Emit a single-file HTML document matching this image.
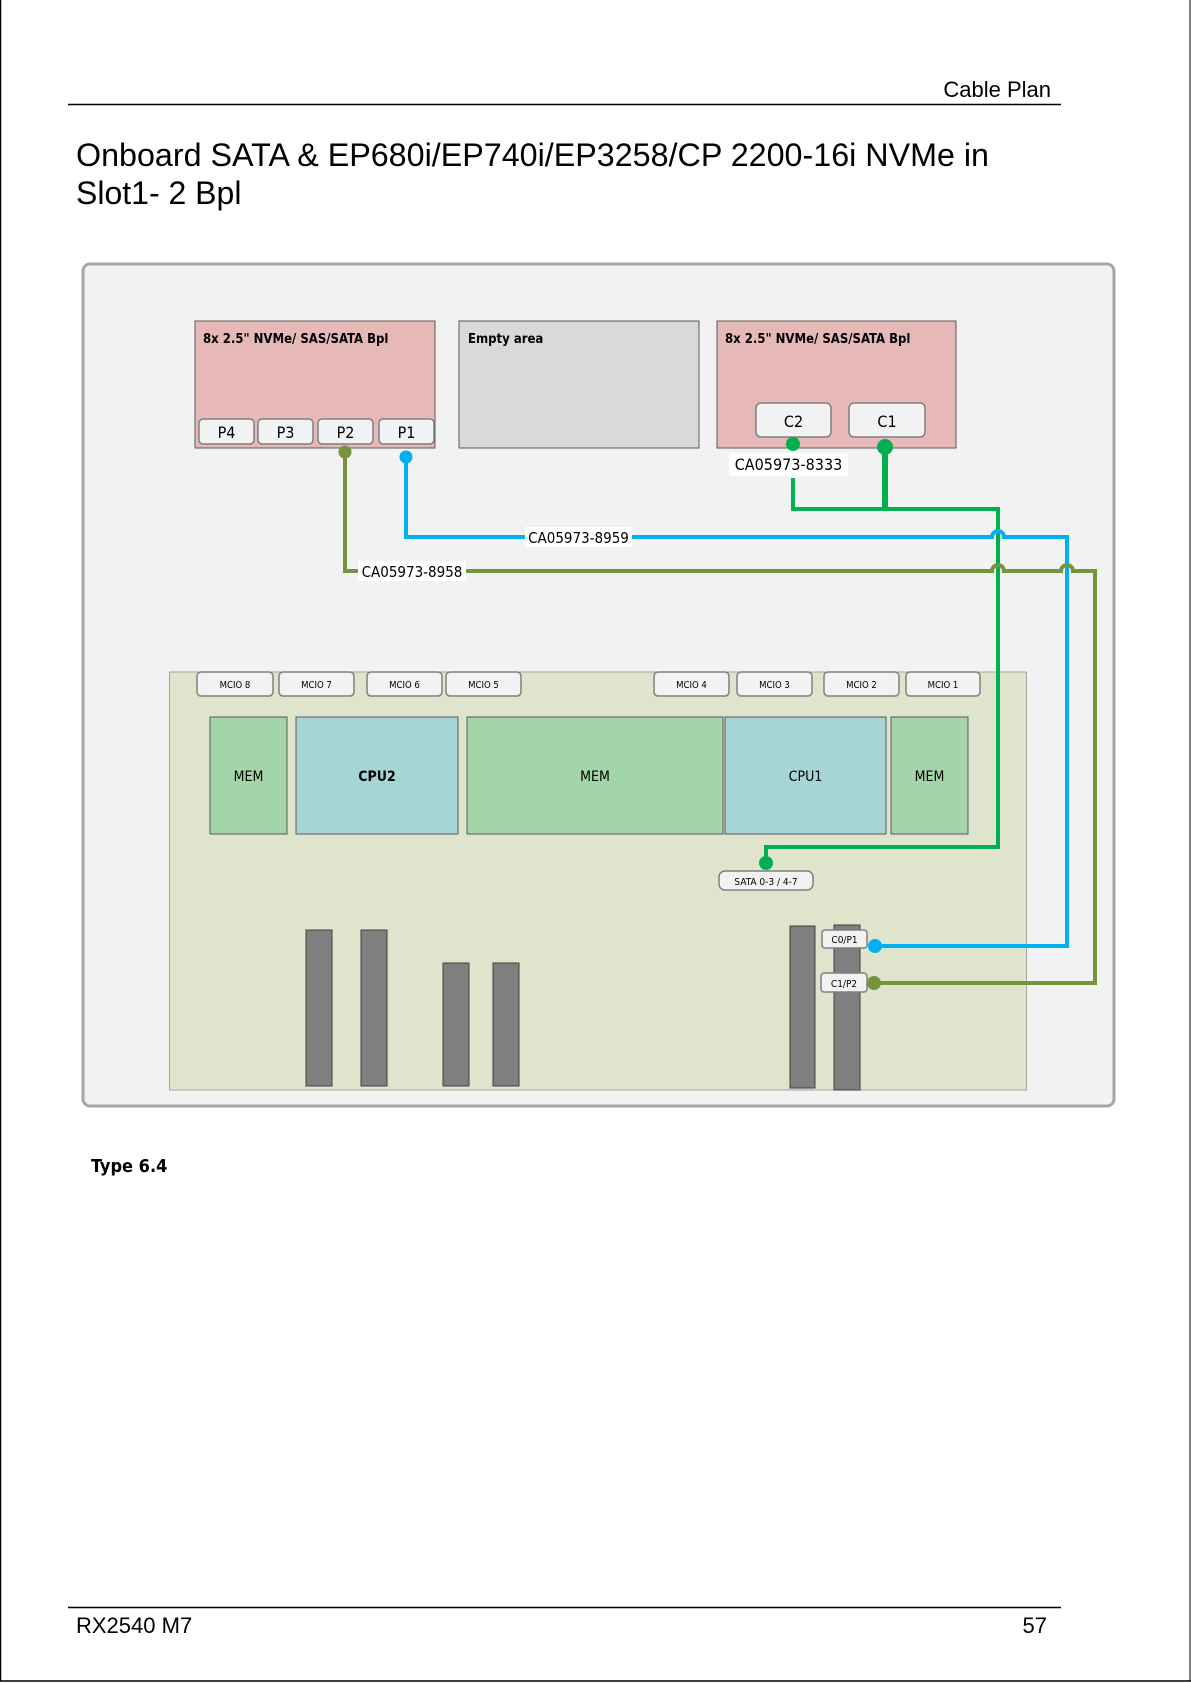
<!DOCTYPE html>
<html><head><meta charset="utf-8"><style>
html,body{margin:0;padding:0;background:#fff}
svg{display:block}
text{font-family:"Liberation Sans",sans-serif}
.c{font-family:"DejaVu Sans Condensed","Liberation Sans",sans-serif}
</style></head><body>
<svg width="1191" height="1684" viewBox="0 0 1191 1684" xmlns="http://www.w3.org/2000/svg">
<rect x="0" y="0" width="1191" height="1684" fill="#fff"/>
<line x1="0.5" y1="0" x2="0.5" y2="1681" stroke="#000" stroke-width="1.5"/>
<line x1="0" y1="1681" x2="1191" y2="1681" stroke="#000" stroke-width="1.5"/>
<line x1="1190" y1="0" x2="1190" y2="1681" stroke="#000" stroke-width="1"/>
<text x="1051" y="97" font-size="22" text-anchor="end">Cable Plan</text>
<line x1="68" y1="104.5" x2="1061" y2="104.5" stroke="#000" stroke-width="1.5"/>
<text x="76" y="166" font-size="32" textLength="913" lengthAdjust="spacingAndGlyphs">Onboard SATA &amp; EP680i/EP740i/EP3258/CP 2200-16i NVMe in</text>
<text x="76" y="204" font-size="32">Slot1- 2 Bpl</text>

<rect x="83" y="264" width="1031" height="842" rx="7" fill="#f2f2f2" stroke="#a6a6a6" stroke-width="3"/>

<rect x="195" y="321" width="240" height="127" fill="#e6b9b8" stroke="#595959" stroke-width="1"/>
<text class="c" x="203" y="343" font-size="13" font-weight="bold">8x  2.5" NVMe/ SAS/SATA Bpl</text>
<g font-size="16" text-anchor="middle" class="c">
<rect x="199" y="419" width="55" height="25" rx="4" fill="#f2f2f2" stroke="#7f7f7f" stroke-width="1.5"/><text class="c" x="226.5" y="438">P4</text>
<rect x="258" y="419" width="55" height="25" rx="4" fill="#f2f2f2" stroke="#7f7f7f" stroke-width="1.5"/><text class="c" x="285.5" y="438">P3</text>
<rect x="318" y="419" width="55" height="25" rx="4" fill="#f2f2f2" stroke="#7f7f7f" stroke-width="1.5"/><text class="c" x="345.5" y="438">P2</text>
<rect x="379" y="419" width="55" height="25" rx="4" fill="#f2f2f2" stroke="#7f7f7f" stroke-width="1.5"/><text class="c" x="406.5" y="438">P1</text>
</g>
<rect x="459" y="321" width="240" height="127" fill="#d9d9d9" stroke="#595959" stroke-width="1"/>
<text class="c" x="468" y="343" font-size="13" font-weight="bold">Empty area</text>
<rect x="717" y="321" width="239" height="127" fill="#e6b9b8" stroke="#595959" stroke-width="1"/>
<text class="c" x="725" y="343" font-size="13" font-weight="bold">8x  2.5" NVMe/ SAS/SATA Bpl</text>
<rect x="756" y="403" width="75" height="34" rx="5" fill="#f2f2f2" stroke="#7f7f7f" stroke-width="1.5"/><text class="c" x="793.5" y="427" font-size="16" text-anchor="middle">C2</text>
<rect x="849" y="403" width="76" height="34" rx="5" fill="#f2f2f2" stroke="#7f7f7f" stroke-width="1.5"/><text class="c" x="887" y="427" font-size="16" text-anchor="middle">C1</text>

<rect x="169.5" y="672" width="857" height="418" fill="#dfe4cd" stroke="#a6a6a6" stroke-width="1"/>
<g font-size="9.5" text-anchor="middle">
<rect x="197" y="672" width="76" height="24" rx="4" fill="#f2f2f2" stroke="#7f7f7f" stroke-width="1.5"/><text class="c" x="235" y="688">MCIO 8</text>
<rect x="279" y="672" width="75" height="24" rx="4" fill="#f2f2f2" stroke="#7f7f7f" stroke-width="1.5"/><text class="c" x="316.5" y="688">MCIO 7</text>
<rect x="367" y="672" width="75" height="24" rx="4" fill="#f2f2f2" stroke="#7f7f7f" stroke-width="1.5"/><text class="c" x="404.5" y="688">MCIO 6</text>
<rect x="446" y="672" width="75" height="24" rx="4" fill="#f2f2f2" stroke="#7f7f7f" stroke-width="1.5"/><text class="c" x="483.5" y="688">MCIO 5</text>
<rect x="654" y="672" width="75" height="24" rx="4" fill="#f2f2f2" stroke="#7f7f7f" stroke-width="1.5"/><text class="c" x="691.5" y="688">MCIO 4</text>
<rect x="737" y="672" width="75" height="24" rx="4" fill="#f2f2f2" stroke="#7f7f7f" stroke-width="1.5"/><text class="c" x="774.5" y="688">MCIO 3</text>
<rect x="824" y="672" width="75" height="24" rx="4" fill="#f2f2f2" stroke="#7f7f7f" stroke-width="1.5"/><text class="c" x="861.5" y="688">MCIO 2</text>
<rect x="906" y="672" width="74" height="24" rx="4" fill="#f2f2f2" stroke="#7f7f7f" stroke-width="1.5"/><text class="c" x="943" y="688">MCIO 1</text>
</g>
<g font-size="14" text-anchor="middle">
<rect x="210" y="717" width="77" height="117" fill="#a3d5a8" stroke="#595959" stroke-width="1"/><text class="c" x="248.5" y="781">MEM</text>
<rect x="296" y="717" width="162" height="117" fill="#a5d5d5" stroke="#595959" stroke-width="1"/><text class="c" x="377" y="781" font-weight="bold">CPU2</text>
<rect x="467" y="717" width="256" height="117" fill="#a3d5a8" stroke="#595959" stroke-width="1"/><text class="c" x="595" y="781">MEM</text>
<rect x="725" y="717" width="161" height="117" fill="#a5d5d5" stroke="#595959" stroke-width="1"/><text class="c" x="805.5" y="781">CPU1</text>
<rect x="891" y="717" width="77" height="117" fill="#a3d5a8" stroke="#595959" stroke-width="1"/><text class="c" x="929.5" y="781">MEM</text>
</g>
<g fill="#7f7f7f" stroke="#404040" stroke-width="1">
<rect x="306" y="930" width="26" height="156"/>
<rect x="361" y="930" width="26" height="156"/>
<rect x="443" y="963" width="26" height="123"/>
<rect x="493" y="963" width="26" height="123"/>
<rect x="790" y="926" width="25" height="162"/>
<rect x="834" y="925" width="26" height="165"/>
</g>
<rect x="719" y="871" width="94" height="19" rx="6" fill="#f2f2f2" stroke="#7f7f7f" stroke-width="1.5"/><text class="c" x="766" y="885" font-size="10" text-anchor="middle">SATA 0-3 / 4-7</text>
<rect x="822" y="930" width="45" height="18" rx="3" fill="#f2f2f2" stroke="#7f7f7f" stroke-width="1.5"/><text class="c" x="844.5" y="943" font-size="10" text-anchor="middle">C0/P1</text>
<rect x="821" y="973" width="46" height="19" rx="3" fill="#f2f2f2" stroke="#7f7f7f" stroke-width="1.5"/><text class="c" x="844" y="987" font-size="10" text-anchor="middle">C1/P2</text>

<g fill="none" stroke-linejoin="miter">
<polyline points="793,478 793,509 998,509 998,847 766,847 766,860" stroke="#00b050" stroke-width="4"/>
<line x1="885" y1="447" x2="885" y2="509" stroke="#00b050" stroke-width="6"/>
<path d="M406,457 V537 H992 a6,6 0 0 1 12,0 H1067 V946 H875" stroke="#00b0f0" stroke-width="4"/>
<path d="M345,452 V571 H992 a6,6 0 0 1 12,0 H1061 a6,6 0 0 1 12,0 H1095 V983 H874" stroke="#77933c" stroke-width="4"/>
</g>
<circle cx="345" cy="452" r="6.5" fill="#77933c"/>
<circle cx="406" cy="457" r="6.5" fill="#00b0f0"/>
<circle cx="793" cy="444" r="7" fill="#00b050"/>
<circle cx="885" cy="447" r="8" fill="#00b050"/>
<circle cx="766" cy="863" r="7" fill="#00b050"/>
<circle cx="875" cy="946" r="7" fill="#00b0f0"/>
<circle cx="874" cy="983" r="7" fill="#77933c"/>
<rect x="525" y="527" width="107" height="20" fill="#fff"/>
<text class="c" x="578.5" y="543" font-size="15" text-anchor="middle">CA05973-8959</text>
<rect x="358" y="561" width="108" height="20" fill="#fff"/>
<text class="c" x="412" y="577" font-size="15" text-anchor="middle">CA05973-8958</text>
<rect x="729" y="453" width="119" height="23" fill="#fff"/>
<text class="c" x="788.5" y="470" font-size="16" text-anchor="middle">CA05973-8333</text>

<text class="c" x="91" y="1172" font-size="18" font-weight="bold">Type 6.4</text>
<line x1="68" y1="1607.5" x2="1061" y2="1607.5" stroke="#000" stroke-width="1.5"/>
<text x="76" y="1633" font-size="22">RX2540 M7</text>
<text x="1047" y="1633" font-size="22" text-anchor="end">57</text>
</svg>
</body></html>
